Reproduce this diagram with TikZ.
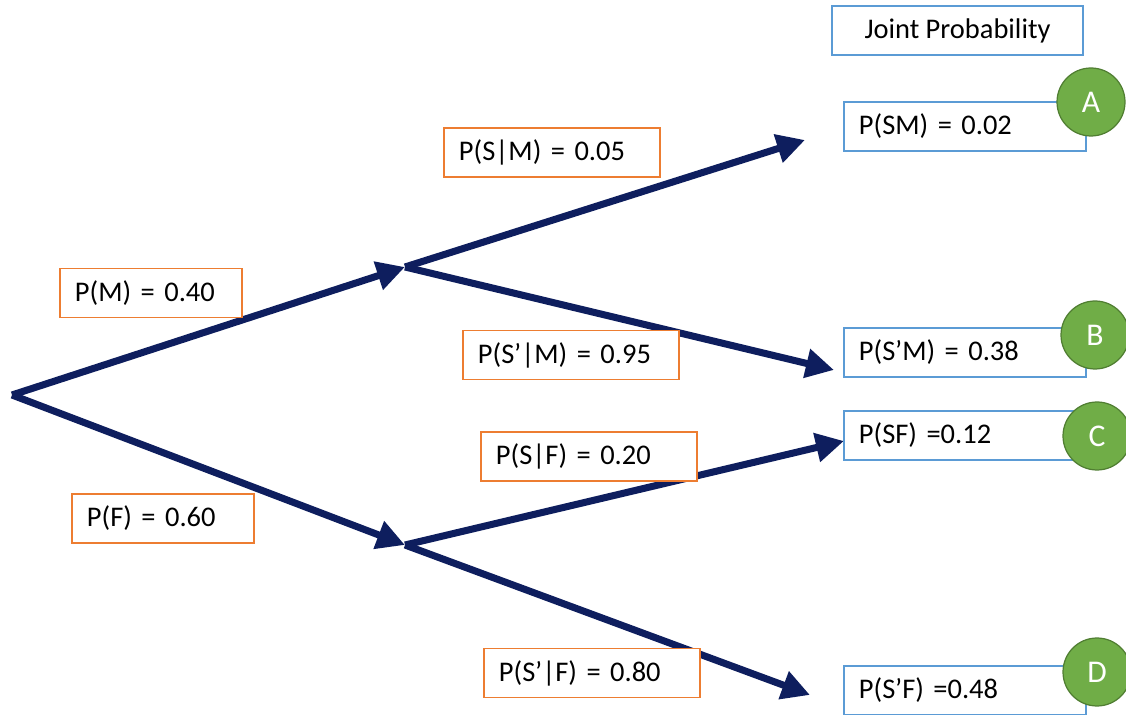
\documentclass[tikz,border=0pt]{standalone}
\usepackage{fontspec}
\setmainfont{Carlito}
\usetikzlibrary{positioning,arrows.meta}
\definecolor{navy}{RGB}{14,30,94}
\definecolor{condorange}{RGB}{237,125,49}
\definecolor{jointblue}{RGB}{91,155,213}
\definecolor{taggreen}{RGB}{112,173,71}
\definecolor{tagedge}{RGB}{80,126,50}

\begin{document}
\begin{tikzpicture}
[x=0.02cm, y=-0.02cm, font=\fontsize{16.2}{19}\selectfont,
 branch/.style={line width=4pt, draw=navy, -{Triangle[length=16pt,width=16pt]}},
 cond/.style={draw=condorange, fill=white, line width=1.1pt, anchor=west,
   minimum height=0.98cm, inner xsep=0.3cm, text width=3.72cm, align=left},
 condshort/.style={cond, text width=3.04cm},
 joint/.style={draw=jointblue, fill=white, line width=1.1pt, anchor=west,
   minimum height=0.98cm, inner xsep=0.3cm, text width=4.24cm, align=left},
 tag/.style={circle, fill=taggreen, draw=tagedge, line width=0.7pt, text=white,
   minimum size=1.36cm, inner sep=0pt, font=\fontsize{18}{21}\selectfont}]
\useasboundingbox (0,0) rectangle (1126,715);

\coordinate (root) at (12,395);
\coordinate (m) at (405,267);
\coordinate (f) at (405,545);
\coordinate (sm) at (805,140);
\coordinate (spm) at (834,370);
\coordinate (sf) at (844,441);
\coordinate (spf) at (810,695);

\draw[branch] (root) -- (m);
\draw[branch] (root) -- (f);
\draw[branch] (m) -- (sm);
\draw[branch] (m) -- (spm);
\draw[branch] (f) -- (sf);
\draw[branch] (f) -- (spf);

\node[cond] (cSM) at (443,152.5) {P(S|M) = 0.05};
\node[condshort] (cM) at (59,293) {P(M) = 0.40};
\node[cond] (cSpM) at (462,355) {P(S’|M) = 0.95};
\node[cond] (cSF) at (480,456.5) {P(S|F) = 0.20};
\node[condshort] (cF) at (71,518.5) {P(F) = 0.60};
\node[cond] (cSpF) at (483,673) {P(S’|F) = 0.80};

\node[draw=jointblue, line width=1.1pt, minimum width=5.02cm, minimum height=0.98cm]
  (jt) at (957.5,30.5) {Joint Probability};
\node[joint] (jSM) at (843,126.5) {P(SM) = 0.02};
\node[joint] (jSpM) at (843,352.5) {P(S’M) = 0.38};
\node[joint] (jSF) at (843,435.5) {P(SF) =0.12};
\node[joint] (jSpF) at (843,690.5) {P(S’F) =0.48};

\node[tag] (tA) at (1091,102) {A};
\node[tag] (tB) at (1095,335) {B};
\node[tag] (tC) at (1097,436) {C};
\node[tag] (tD) at (1097,672) {D};
\end{tikzpicture}
\end{document}
